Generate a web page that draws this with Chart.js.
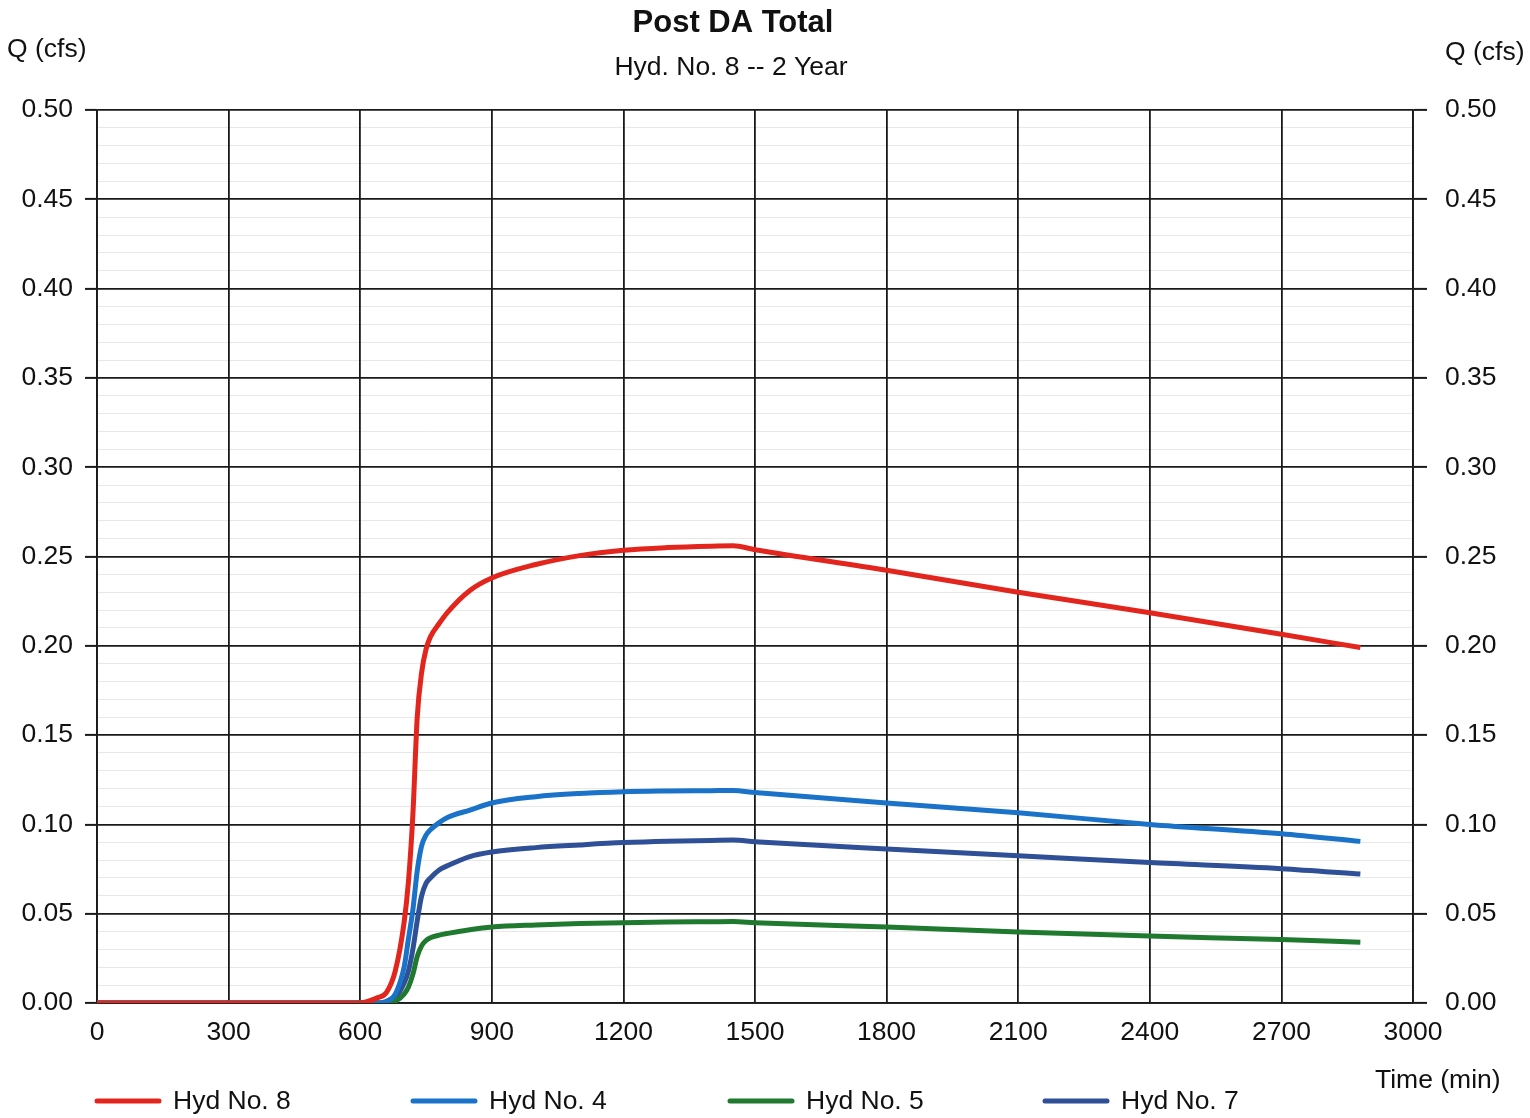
<!DOCTYPE html>
<html>
<head>
<meta charset="utf-8">
<title>Post DA Total</title>
<script src="https://cdn.jsdelivr.net/npm/chart.js@4"></script>
<style>
  html, body { margin: 0; padding: 0; background: #ffffff; }
  #wrap { width: 1530px; height: 1118px; }
</style>
</head>
<body>
<div id="wrap"><canvas id="chart" width="1530" height="1118"></canvas></div>
<script>
// Hydrograph ordinates, time in minutes, flow in cfs
const timeMin = [0, 600, 640, 660, 680, 700, 710, 720, 730, 740, 750, 760, 780, 800, 850, 900,
                 1000, 1100, 1200, 1300, 1400, 1450, 1500, 1800, 2100, 2400, 2700, 2880];

const hyd8 = [0, 0, 0.003, 0.006, 0.018, 0.045, 0.068, 0.105, 0.160, 0.185, 0.198, 0.205, 0.2125, 0.219, 0.231, 0.238,
              0.2455, 0.2505, 0.2535, 0.255, 0.2558, 0.256, 0.2538, 0.2423, 0.230, 0.2185, 0.2065, 0.199];

const hyd4 = [0, 0, 0, 0.001, 0.005, 0.020, 0.036, 0.052, 0.074, 0.088, 0.094, 0.097, 0.101, 0.104, 0.108, 0.112,
              0.1155, 0.1173, 0.1183, 0.1187, 0.1189, 0.119, 0.1178, 0.112, 0.1065, 0.100, 0.0948, 0.0905];

const hyd5 = [0, 0, 0, 0, 0.001, 0.005, 0.009, 0.016, 0.026, 0.032, 0.035, 0.0365, 0.038, 0.039, 0.041, 0.0425,
              0.0437, 0.0445, 0.045, 0.0453, 0.0455, 0.0456, 0.045, 0.0425, 0.0398, 0.0375, 0.0355, 0.034];

const hyd7 = [0, 0, 0, 0, 0.003, 0.011, 0.018, 0.030, 0.046, 0.060, 0.067, 0.070, 0.0745, 0.077, 0.082, 0.0845,
              0.087, 0.0885, 0.0898, 0.0906, 0.091, 0.0912, 0.0903, 0.0862, 0.0825, 0.0786, 0.0752, 0.0722];

const seriesNames = ['Hyd No. 8', 'Hyd No. 4', 'Hyd No. 5', 'Hyd No. 7'];
const xTickStep = 300;

const FONT = '"Liberation Sans", Arial, Helvetica, sans-serif';
const FS = 26.5;
const colors = ['#e3261d', '#1b73c9', '#1f7a30', '#2f4f97'];

const toPoints = arr => arr.map((v, i) => ({ x: timeMin[i], y: v }));
const seriesValues = [hyd8, hyd4, hyd5, hyd7];

const datasets = seriesValues.map((vals, i) => ({
  label: seriesNames[i],
  data: toPoints(vals),
  borderColor: colors[i],
  backgroundColor: colors[i],
  borderWidth: 5,
  pointRadius: 0,
  fill: false,
  cubicInterpolationMode: 'monotone',
  yAxisID: 'y'
}));

const isMajor = v => Math.abs(Math.round(v * 100) % 5) === 0;

function yAxis(position) {
  const left = position === 'left';
  return {
    type: 'linear',
    position: position,
    min: 0,
    max: 0.5,
    afterFit: s => { s.width = left ? 97 : 117; },
    ticks: {
      stepSize: 0.01,
      autoSkip: false,
      maxTicksLimit: 200,
      padding: left ? 12 : 18,
      color: '#111',
      font: { family: FONT, size: FS },
      callback: v => isMajor(v) ? (Math.round(v * 100) / 100).toFixed(2) : ''
    },
    grid: {
      drawOnChartArea: left,
      drawTicks: true,
      tickLength: left ? 12 : 14,
      tickWidth: 2,
      tickColor: c => (c.tick && isMajor(c.tick.value)) ? '#1a1a1a' : 'rgba(0,0,0,0)',
      color: c => (c.tick && isMajor(c.tick.value)) ? '#1a1a1a' : 'rgba(0,0,0,0.09)',
      lineWidth: c => (c.tick && isMajor(c.tick.value)) ? 1.8 : 1
    },
    border: { display: true, color: '#1a1a1a', width: 1.8 }
  };
}

// Titles, axis captions and the legend row
const decorations = {
  id: 'decorations',
  afterDraw(chart) {
    const ctx = chart.ctx;
    ctx.save();
    ctx.fillStyle = '#111';
    ctx.textBaseline = 'middle';

    ctx.textAlign = 'center';
    ctx.font = 'bold 31px ' + FONT;
    ctx.fillText('Post DA Total', 733, 23);
    ctx.font = FS + 'px ' + FONT;
    ctx.fillText('Hyd. No. 8 -- 2 Year', 731, 68);

    ctx.textAlign = 'left';
    ctx.fillText('Q (cfs)', 7, 50);
    ctx.fillText('Q (cfs)', 1445, 53);
    ctx.fillText('Time (min)', 1375, 1081);

    const legendX = [95, 411, 728, 1043];
    chart.data.datasets.forEach((ds, i) => {
      const x = legendX[i], y = 1101;
      ctx.strokeStyle = ds.borderColor;
      ctx.lineWidth = 5;
      ctx.lineCap = 'round';
      ctx.beginPath();
      ctx.moveTo(x + 2, y);
      ctx.lineTo(x + 64, y);
      ctx.stroke();
      ctx.fillStyle = '#111';
      ctx.font = FS + 'px ' + FONT;
      ctx.fillText(ds.label, x + 78, y + 1);
    });
    ctx.restore();
  }
};

new Chart(document.getElementById('chart'), {
  type: 'line',
  data: { datasets: datasets },
  options: {
    responsive: false,
    devicePixelRatio: 1,
    animation: false,
    events: [],
    layout: { padding: { top: 110, left: 0, right: 0, bottom: 0 } },
    plugins: {
      legend: { display: false },
      title: { display: false },
      tooltip: { enabled: false }
    },
    scales: {
      x: {
        type: 'linear',
        position: 'bottom',
        min: 0,
        max: 3000,
        afterFit: s => { s.height = 115; },
        ticks: {
          stepSize: xTickStep,
          autoSkip: false,
          maxRotation: 0,
          padding: 14,
          color: '#111',
          font: { family: FONT, size: FS },
          callback: v => String(Math.round(v))
        },
        grid: {
          drawTicks: false,
          color: '#1a1a1a',
          lineWidth: 1.8
        },
        border: { display: true, color: '#1a1a1a', width: 1.8 }
      },
      y: yAxis('left'),
      y2: yAxis('right')
    }
  },
  plugins: [decorations]
});
</script>
</body>
</html>
